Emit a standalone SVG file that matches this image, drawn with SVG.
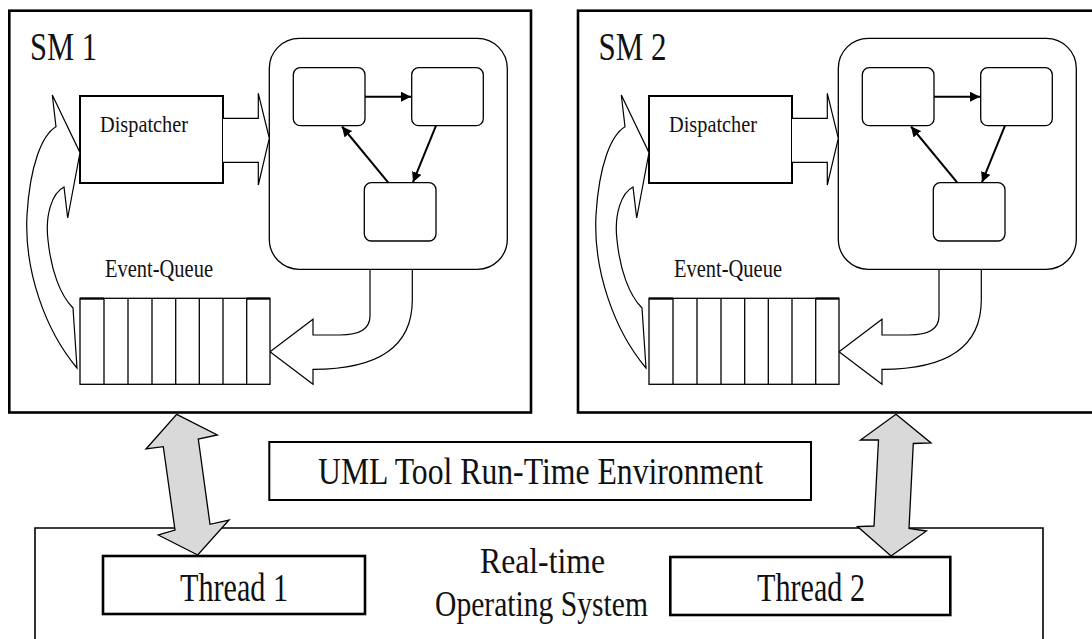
<svg xmlns="http://www.w3.org/2000/svg" width="1092" height="639" viewBox="0 0 1092 639">
<style>
.t{font-family:"Liberation Serif","Times New Roman",serif;fill:#111}
.frame{fill:#fff;stroke:#000;stroke-width:2.6}
.box{fill:#fff;stroke:#000;stroke-width:2}
.thin{fill:#fff;stroke:#000;stroke-width:1.3}
.hollow{fill:#fff;stroke:#000;stroke-width:1.2;stroke-linejoin:miter}
.trans{fill:none;stroke:#000;stroke-width:2}
.dbl{fill:#d9d9d9;stroke:#000;stroke-width:1.3;stroke-linejoin:miter}
.cell{stroke:#000;stroke-width:1.3}
</style>
<defs>
<marker id="ah" viewBox="0 0 10 10" refX="10" refY="5" markerWidth="5" markerHeight="5" orient="auto" markerUnits="strokeWidth">
<path d="M0,0 L10,5 L0,10 Z" fill="#000"/>
</marker>
<g id="smContent">
<!-- dispatcher -->
<rect class="box" x="80" y="96" width="143" height="87"/>
<text class="t" font-size="20" textLength="88" lengthAdjust="spacingAndGlyphs" transform="translate(100,132) scale(1,1.2)">Dispatcher</text>
<!-- state machine to queue hollow arrow -->
<path class="hollow" d="M370,269.3 L370,316 C370,330 358,335 340,335 L313,335 L313,319.3 L270,351.7 L313,384.3 L313,369.3 C380,369.3 412.3,345 412.3,300 L412.3,269.3"/>
<!-- state machine container -->
<rect class="thin" x="269.3" y="38.3" width="238" height="231" rx="30" ry="30"/>
<rect class="thin" x="293.3" y="67.7" width="71.7" height="58" rx="7" ry="7"/>
<rect class="thin" x="411.7" y="67.7" width="71.6" height="58" rx="7" ry="7"/>
<rect class="thin" x="364.3" y="182.7" width="71.7" height="58.3" rx="7" ry="7"/>
<line class="trans" x1="365" y1="96.7" x2="411" y2="96.7" marker-end="url(#ah)"/>
<line class="trans" x1="436" y1="125.7" x2="413" y2="182.2" marker-end="url(#ah)"/>
<line class="trans" x1="388.3" y1="182.7" x2="342" y2="126.5" marker-end="url(#ah)"/>
<!-- dispatcher to state machine hollow arrow -->
<path class="hollow" d="M223,118.3 L258.3,118.3 L258.3,93.3 L269.3,138.3 L258.3,185 L258.3,162.3 L223,162.3"/>
<!-- queue to dispatcher curved hollow arrow -->
<path class="hollow" d="M77,368 C45,330 24,270 27,215 C30,165 42,135 56,126.7 L52.3,95 L80,152.7 L67.7,218 L64,187 C52,193 45,215 48,240 C51,270 60,295 73,308 Z"/>
<!-- event queue -->
<text class="t" font-size="20.5" textLength="108" lengthAdjust="spacingAndGlyphs" transform="translate(105,277) scale(1,1.2)">Event-Queue</text>
<rect class="thin" x="80" y="298.3" width="190" height="86"/>
<line class="cell" x1="104" y1="298.3" x2="104" y2="384.3"/>
<line class="cell" x1="128" y1="298.3" x2="128" y2="384.3"/>
<line class="cell" x1="152" y1="298.3" x2="152" y2="384.3"/>
<line class="cell" x1="175.7" y1="298.3" x2="175.7" y2="384.3"/>
<line class="cell" x1="199.3" y1="298.3" x2="199.3" y2="384.3"/>
<line class="cell" x1="223" y1="298.3" x2="223" y2="384.3"/>
<line class="cell" x1="246.7" y1="298.3" x2="246.7" y2="384.3"/>
<line stroke="#000" stroke-width="2.2" x1="80" y1="298.6" x2="104" y2="298.6"/>
<line stroke="#000" stroke-width="2.2" x1="246.7" y1="298.6" x2="270" y2="298.6"/>
</g>
</defs>

<g id="os">
<path d="M35,639 L35,528 L1043,528 L1043,639" fill="none" stroke="#000" stroke-width="1.6"/>
<text class="t" font-size="30" textLength="125" lengthAdjust="spacingAndGlyphs" transform="translate(480,573) scale(1,1.2)">Real-time</text>
<text class="t" font-size="30" textLength="213" lengthAdjust="spacingAndGlyphs" transform="translate(435,616) scale(1,1.2)">Operating System</text>
</g>

<g id="sm1">
<rect class="frame" x="9.3" y="10.7" width="521.7" height="401.8"/>
<text class="t" font-size="31" textLength="67" lengthAdjust="spacingAndGlyphs" transform="translate(30,60) scale(1,1.3)">SM 1</text>
<use href="#smContent"/>
</g>

<g id="sm2">
<rect class="frame" x="578" y="10.7" width="521.7" height="401.8"/>
<text class="t" font-size="31" textLength="68" lengthAdjust="spacingAndGlyphs" transform="translate(598.5,60) scale(1,1.3)">SM 2</text>
<use href="#smContent" transform="translate(569,0)"/>
</g>

<g id="uml">
<rect class="box" x="269.3" y="442" width="541.7" height="58"/>
<text class="t" font-size="31" textLength="445" lengthAdjust="spacingAndGlyphs" transform="translate(318,484) scale(1,1.22)">UML Tool Run-Time Environment</text>
</g>

<g id="thread1">
<rect class="frame" x="103" y="556" width="262" height="58"/>
<text class="t" font-size="30" textLength="108" lengthAdjust="spacingAndGlyphs" transform="translate(180,600.5) scale(1,1.3)">Thread 1</text>
</g>

<g id="thread2">
<rect class="frame" x="670.3" y="557" width="280" height="58"/>
<text class="t" font-size="30" textLength="108" lengthAdjust="spacingAndGlyphs" transform="translate(757,600.5) scale(1,1.3)">Thread 2</text>
</g>

<g id="connectors">
<path class="dbl" d="M176.7,414.3 L217.3,435 L198.3,439 L210,524.3 L229,520 L197.7,555 L158.3,535 L175,530 L163.3,446.7 L146,449 Z"/>
<path class="dbl" d="M896,414.3 L931,443 L913.3,443.5 L909,528.5 L926.5,531 L891,556 L857.5,526.5 L874,526 L878.5,440 L860.5,440 Z"/>
</g>
</svg>
